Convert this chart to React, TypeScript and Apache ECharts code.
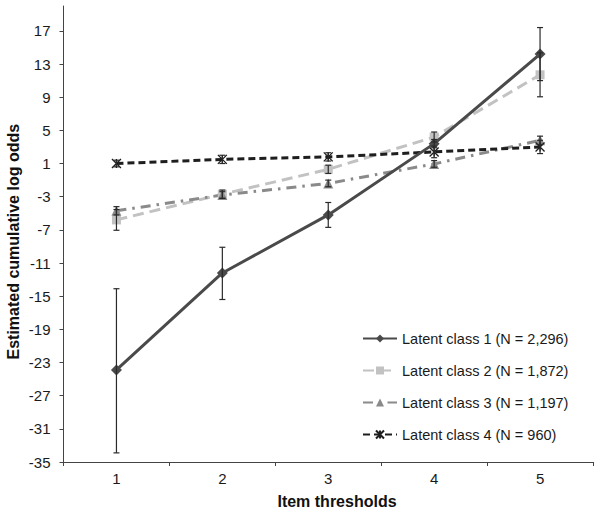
import React, { useEffect, useRef } from 'react';
import * as echarts from 'echarts';

const categories = ['1', '2', '3', '4', '5'];
const yTickValues = [-35, -31, -27, -23, -19, -15, -11, -7, -3, 1, 5, 9, 13, 17];
const seriesNames = [
  'Latent class 1 (N = 2,296)',
  'Latent class 2 (N = 1,872)',
  'Latent class 3 (N = 1,197)',
  'Latent class 4 (N = 960)',
];

const class1 = [-23.9, -12.2, -5.2, 3.4, 14.2];
const class1Low = [-33.9, -15.4, -6.7, 2.9, 11.0];
const class1High = [-14.1, -9.1, -3.7, 3.9, 17.4];

const class2 = [-5.8, -2.7, 0.3, 4.2, 11.7];
const class2Low = [-7.05, -3.2, -0.2, 3.6, 9.05];
const class2High = [-4.55, -2.2, 0.8, 4.8, 14.35];

const class3 = [-4.7, -2.8, -1.4, 0.95, 3.8];
const class3Low = [-5.2, -3.2, -1.8, 0.55, 3.3];
const class3High = [-4.2, -2.4, -1.0, 1.35, 4.3];

const class4 = [1.0, 1.5, 1.8, 2.4, 3.0];
const class4Low = [0.6, 1.0, 1.3, 1.7, 2.2];
const class4High = [1.4, 2.0, 2.3, 3.1, 3.8];

const FONT = '"Liberation Sans", Arial, sans-serif';

function errorSeries(low: number[], high: number[]) {
  return {
    type: 'custom',
    silent: true,
    z: 4,
    encode: { x: 0, y: [1, 2] },
    data: categories.map((_, i) => [i, low[i], high[i]]),
    renderItem: (params: any, api: any) => {
      const x = api.value(0);
      const lo = api.coord([x, api.value(1)]);
      const hi = api.coord([x, api.value(2)]);
      const w = 3;
      const style = { stroke: '#2a2a2a', lineWidth: 1.2 };
      return {
        type: 'group',
        children: [
          { type: 'line', shape: { x1: lo[0], y1: lo[1], x2: hi[0], y2: hi[1] }, style },
          { type: 'line', shape: { x1: lo[0] - w, y1: lo[1], x2: lo[0] + w, y2: lo[1] }, style },
          { type: 'line', shape: { x1: hi[0] - w, y1: hi[1], x2: hi[0] + w, y2: hi[1] }, style },
        ],
      };
    },
  };
}

export default function App() {
  const ref = useRef<HTMLDivElement>(null);
  useEffect(() => {
    document.body.style.margin = '0';
    const chart = echarts.init(ref.current!, null, { renderer: 'svg' });
    const option: any = {
      animation: false,
      backgroundColor: '#ffffff',
      textStyle: { fontFamily: FONT },
      grid: { left: 63.5, right: 8, top: 6, bottom: 52, containLabel: false },
      legend: {
        orient: 'vertical',
        left: 362,
        top: 331,
        padding: 0,
        itemWidth: 34,
        itemHeight: 10,
        itemGap: 17,
        data: seriesNames,
        textStyle: { fontFamily: FONT, fontSize: 14.5, color: '#1a1a1a' },
      },
      xAxis: {
        type: 'category',
        data: categories,
        boundaryGap: true,
        axisLine: { show: true, onZero: false, lineStyle: { color: '#444', width: 1 } },
        axisTick: { show: true, inside: false, length: 4, lineStyle: { color: '#444' } },
        axisLabel: { fontFamily: FONT, fontSize: 15, color: '#1a1a1a', margin: 9 },
        splitLine: { show: false },
      },
      yAxis: {
        type: 'value',
        min: -35,
        max: 20,
        axisLine: { show: true, onZero: false, lineStyle: { color: '#444', width: 1 } },
        axisTick: { show: true, inside: false, length: 4, lineStyle: { color: '#444' }, customValues: yTickValues },
        axisLabel: { fontFamily: FONT, fontSize: 15, color: '#1a1a1a', margin: 13, customValues: yTickValues },
        splitLine: { show: false },
      },
      graphic: [
        {
          type: 'text',
          x: 13.7,
          y: 241.7,
          rotation: Math.PI / 2,
          style: {
            text: 'Estimated cumulative log odds',
            font: `bold 16px ${FONT}`,
            fill: '#111',
            textAlign: 'center',
            textVerticalAlign: 'middle',
          },
        },
        {
          type: 'text',
          x: 337,
          y: 501.7,
          style: {
            text: 'Item thresholds',
            font: `bold 16px ${FONT}`,
            fill: '#111',
            textAlign: 'center',
            textVerticalAlign: 'middle',
          },
        },
      ],
      series: [
        {
          name: seriesNames[1],
          type: 'line',
          data: class2,
          z: 2,
          symbol: 'rect',
          symbolSize: 9,
          itemStyle: { color: '#c2c2c2' },
          lineStyle: { color: '#c2c2c2', width: 3, type: [11, 6] },
        },
        {
          name: seriesNames[2],
          type: 'line',
          data: class3,
          z: 2,
          symbol: 'triangle',
          symbolSize: 10,
          itemStyle: { color: '#8a8a8a' },
          lineStyle: { color: '#8a8a8a', width: 3, type: [10, 6, 2.5, 6] },
        },
        {
          name: seriesNames[3],
          type: 'line',
          data: class4,
          z: 2,
          symbol: 'path://M0 0L10 10M10 0L0 10M5 0L5 10',
          symbolSize: 9,
          itemStyle: { color: '#1e1e1e', borderColor: '#1e1e1e', borderWidth: 1.3 },
          lineStyle: { color: '#1e1e1e', width: 3, type: [7, 4] },
        },
        {
          name: seriesNames[0],
          type: 'line',
          data: class1,
          z: 3,
          symbol: 'diamond',
          symbolSize: 11,
          itemStyle: { color: '#4a4a4a' },
          lineStyle: { color: '#4a4a4a', width: 3 },
        },
        errorSeries(class1Low, class1High),
        errorSeries(class2Low, class2High),
        errorSeries(class3Low, class3High),
        errorSeries(class4Low, class4High),
      ],
    };
    chart.setOption(option);
    return () => chart.dispose();
  }, []);
  return <div ref={ref} style={{ width: 601, height: 514 }} />;
}
